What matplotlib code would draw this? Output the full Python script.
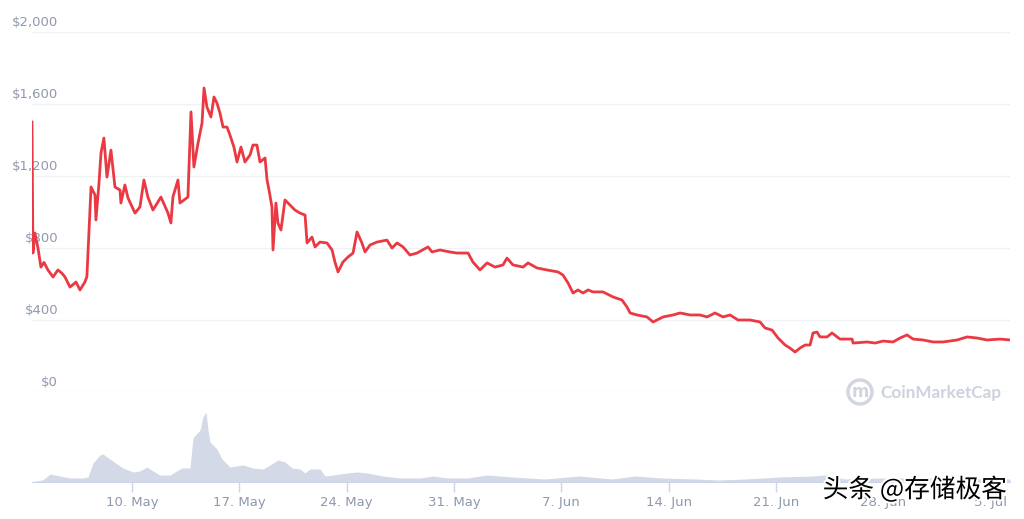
import matplotlib.pyplot as plt
import matplotlib.patheffects as pe
from matplotlib.patches import Circle
import numpy as np

# days relative to 10 May
price_days = [-6.52, -6.46, -6.33, -6.13, -5.94, -5.74, -5.48, -5.15, -4.83, -4.57,
              -4.37, -4.04, -3.65, -3.39, -3.07, -2.94, -2.67, -2.41, -2.35, -2.15,
              -2.02, -1.83, -1.63, -1.37, -1.11, -0.78, -0.72, -0.46, -0.26, 0.20,
              0.52, 0.78, 1.04, 1.37, 1.89, 2.35, 2.54, 2.67, 3.00, 3.13,
              3.65, 3.85, 4.04, 4.31, 4.57, 4.70, 4.89, 5.15, 5.35, 5.54,
              5.74, 5.94, 6.20, 6.39, 6.65, 6.85, 7.11, 7.37, 7.70, 7.89,
              8.15, 8.35, 8.68, 8.81, 8.94, 9.13, 9.20, 9.39, 9.52, 9.72,
              9.98, 10.31, 10.63, 10.96, 11.29, 11.42, 11.74, 11.94, 12.26, 12.72,
              13.05, 13.24, 13.44, 13.76, 14.09, 14.42, 14.68, 15.00, 15.20, 15.53,
              15.98, 16.63, 16.96, 17.29, 17.68, 18.13, 18.59, 19.31, 19.57, 20.09,
              20.74, 21.20, 21.92, 22.24, 22.70, 23.16, 23.68, 24.20, 24.46, 24.85,
              25.51, 25.83, 26.42, 27.07, 27.79, 28.11, 28.44, 28.77, 29.09, 29.42,
              29.75, 30.07, 30.72, 31.38, 31.96, 32.29, 32.49, 32.94, 33.59, 33.99,
              34.64, 35.29, 35.75, 36.40, 37.05, 37.51, 38.03, 38.55, 39.01, 39.53,
              40.31, 40.97, 41.29, 41.75, 42.14, 42.60, 42.92, 43.25, 43.57, 43.90,
              44.23, 44.42, 44.68, 44.88, 45.34, 45.66, 46.18, 46.97, 47.03, 47.95,
              48.47, 48.99, 49.64, 50.10, 50.55, 50.95, 51.60, 52.25, 52.90, 53.82,
              54.47, 55.12, 55.77, 56.62, 57.27]
price_usd = [1500, 772, 883, 800, 694, 720, 678, 639, 678, 660,
             639, 583, 611, 567, 611, 640, 1139, 1094, 956, 1161,
             1328, 1411, 1194, 1344, 1139, 1122, 1050, 1150, 1078, 994,
             1028, 1178, 1083, 1011, 1083, 994, 939, 1083, 1178, 1050,
             1083, 1556, 1250, 1383, 1494, 1689, 1583, 1528, 1639, 1606,
             1550, 1472, 1472, 1428, 1361, 1278, 1361, 1278, 1317, 1372,
             1372, 1278, 1300, 1178, 1122, 1028, 789, 1050, 939, 900,
             1067, 1039, 1011, 994, 983, 828, 861, 806, 833, 828,
             789, 722, 667, 722, 750, 772, 889, 828, 778, 817,
             833, 844, 800, 828, 806, 761, 772, 806, 778, 789,
             778, 772, 772, 722, 678, 717, 694, 706, 744, 706,
             694, 717, 689, 678, 667, 650, 606, 550, 567, 550,
             567, 556, 556, 528, 511, 472, 439, 428, 417, 389,
             417, 428, 439, 428, 428, 417, 439, 417, 428, 400,
             400, 389, 356, 344, 300, 261, 244, 222, 244, 261,
             261, 328, 333, 306, 306, 328, 294, 294, 272, 278,
             272, 283, 278, 300, 317, 294, 289, 278, 278, 289,
             306, 300, 289, 294, 289]

volume_days = [-6.52, -5.81, -5.35, -4.70, -4.04, -3.20, -2.87, -2.54, -2.09, -1.89,
               -1.44, -0.98, -0.59, 0.07, 0.52, 0.98, 1.37, 1.83, 2.48, 2.80,
               3.26, 3.78, 3.98, 4.44, 4.63, 4.83, 4.96, 5.09, 5.54, 5.87,
               6.39, 7.24, 7.89, 8.55, 9.00, 9.52, 9.98, 10.44, 10.96, 11.29,
               11.61, 12.26, 12.59, 13.11, 14.03, 14.68, 15.33, 16.37, 17.48, 18.79,
               19.63, 20.61, 21.85, 23.16, 24.01, 24.79, 26.94, 29.16, 31.31, 32.81,
               34.57, 36.73, 38.29, 39.99, 42.21, 44.36, 45.21, 46.51, 48.73, 50.88,
               53.03, 55.25, 57.27]
volume_musd = [10, 40, 160, 120, 80, 80, 100, 380, 540, 560,
               460, 360, 280, 200, 220, 300, 220, 140, 140, 200,
               280, 280, 880, 1040, 1300, 1400, 1040, 800, 660, 460,
               300, 340, 280, 260, 340, 440, 400, 280, 260, 180,
               260, 260, 120, 140, 180, 200, 180, 120, 80, 80,
               120, 80, 80, 140, 120, 100, 60, 120, 60, 120,
               80, 60, 40, 60, 100, 120, 140, 60, 80, 80,
               80, 60, 60]

tick_days = [0, 7, 14, 21, 28, 35, 42, 49, 56]
tick_labels = ['10. May', '17. May', '24. May', '31. May', '7. Jun',
               '14. Jun', '21. Jun', '28. Jun', '5. Jul']
price_ticks = [0, 400, 800, 1200, 1600, 2000]

label_color = '#8f99ad'
grid_color = '#eff2f5'

fig = plt.figure(figsize=(10.24, 5.19), dpi=100)
ax = fig.add_axes([0.03125, 0.2447, 0.9551, 0.6936])
axv = fig.add_axes([0.03125, 0.0713, 0.9551, 0.1484])

ax.plot(price_days, price_usd, color='#ea3943', lw=2, zorder=3)
ax.set_xlim(price_days[0], price_days[-1])
ax.set_ylim(0, 2000)
for v in price_ticks:
    ax.axhline(v, color=grid_color, lw=1, zorder=0)
    ax.annotate('${:,}'.format(v), xy=(0.0266, v), xycoords=ax.get_yaxis_transform(),
                xytext=(0, 2), textcoords='offset points', ha='right', va='bottom',
                fontsize=9.5, color=label_color, zorder=2,
                bbox=dict(boxstyle='square,pad=0.15', fc='white', ec='none'))
ax.set_xticks([])
ax.set_yticks([])
for s in ax.spines.values():
    s.set_visible(False)

axv.fill_between(volume_days, volume_musd, color='#d3d9e6', lw=0)
axv.set_xlim(price_days[0], price_days[-1])
axv.set_ylim(0, 1540)
axv.set_yticks([])
axv.set_xticks(tick_days)
axv.set_xticklabels(tick_labels, fontsize=9.5, color=label_color)
axv.tick_params(axis='x', length=7, width=1, color='#ccd6eb', pad=3)
for s in ['top', 'left', 'right']:
    axv.spines[s].set_visible(False)
axv.spines['bottom'].set_color('#ccd6eb')
axv.patch.set_alpha(0)

# CoinMarketCap watermark
fig.patches.append(Circle((860, 127), 12, transform=None, fill=False,
                          ec='#d0d5df', lw=2.4))
fig.text(860 / 1024, 1 - 392 / 519, 'm', ha='center', va='center', fontsize=12,
         color='#d0d5df', fontweight='bold')
fig.text(880 / 1024, 1 - 393 / 519, 'CoinMarketCap', ha='left', va='center',
         fontsize=12.3, color='#cdd2dd', family='Lato', fontweight='bold')

fig.text(915 / 1024, 1 - 490 / 519, '头条 @存储极客', ha='center', va='center',
         fontsize=18.5, color='black', family=['Noto Sans CJK SC', 'DejaVu Sans'],
         path_effects=[pe.withStroke(linewidth=3, foreground='white')])

fig.savefig('out.png', dpi=100, facecolor='white')
